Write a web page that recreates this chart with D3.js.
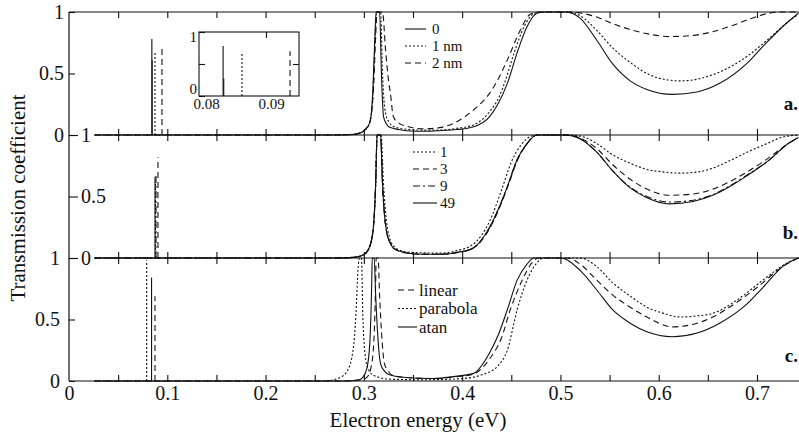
<!DOCTYPE html>
<html>
<head>
<meta charset="utf-8">
<script src="https://cdn.jsdelivr.net/npm/d3@7"></script>
<style>
  body { margin: 0; background: #fff; }
  svg { display: block; }
  svg text { font-family: "Liberation Serif", "Times New Roman", Tinos, "DejaVu Serif", serif; }
</style>
</head>
<body>
<script>
// ---- data: [energy (eV), transmission] ----
var xLabels = [0, 0.1, 0.2, 0.3, 0.4, 0.5, 0.6, 0.7];
var xMinor = [0.05, 0.1, 0.15, 0.2, 0.25, 0.3, 0.35, 0.4, 0.45, 0.5, 0.55, 0.6, 0.65, 0.7];
var yLabels = [0, 0.5, 1];

// panel a : thickness
var legendA = ["0", "1 nm", "2 nm"];
var aSolid = [[0.026,0],[0.27,0],[0.29,0.005],[0.296,0.016],[0.302,0.05],[0.306,0.10],[0.309,0.34],[0.311,0.75],[0.3125,1],[0.316,1],[0.318,0.47],[0.320,0.15],[0.323,0.09],[0.327,0.06],[0.335,0.045],[0.344,0.035],[0.36,0.03],[0.377,0.035],[0.395,0.045],[0.411,0.065],[0.428,0.15],[0.437,0.26],[0.446,0.42],[0.456,0.67],[0.466,0.88],[0.476,0.99],[0.485,1],[0.505,1],[0.52,0.95],[0.537,0.77],[0.553,0.58],[0.571,0.44],[0.588,0.37],[0.614,0.33],[0.639,0.35],[0.662,0.42],[0.69,0.585],[0.706,0.72],[0.726,0.88],[0.742,0.99]];
var aDotted = [[0.026,0],[0.27,0],[0.29,0.005],[0.296,0.015],[0.302,0.045],[0.306,0.10],[0.309,0.3],[0.311,0.7],[0.313,1],[0.317,1],[0.319,0.5],[0.322,0.18],[0.326,0.1],[0.33,0.07],[0.34,0.05],[0.36,0.04],[0.377,0.04],[0.395,0.055],[0.411,0.08],[0.428,0.19],[0.437,0.3],[0.443,0.42],[0.453,0.67],[0.463,0.88],[0.474,0.99],[0.482,1],[0.508,1],[0.52,0.97],[0.537,0.85],[0.553,0.71],[0.571,0.59],[0.588,0.50],[0.604,0.455],[0.622,0.44],[0.64,0.455],[0.655,0.49],[0.672,0.55],[0.69,0.64],[0.713,0.79],[0.733,0.93],[0.742,0.98]];
var aDashed = [[0.026,0],[0.27,0],[0.29,0.006],[0.297,0.02],[0.303,0.06],[0.307,0.14],[0.310,0.4],[0.312,0.8],[0.3135,1],[0.319,1],[0.322,0.7],[0.325,0.45],[0.327,0.34],[0.33,0.15],[0.335,0.10],[0.344,0.07],[0.361,0.05],[0.377,0.06],[0.395,0.11],[0.411,0.20],[0.428,0.34],[0.437,0.46],[0.446,0.61],[0.459,0.85],[0.469,0.98],[0.478,1],[0.51,1],[0.525,0.985],[0.54,0.95],[0.555,0.90],[0.57,0.86],[0.59,0.82],[0.611,0.80],[0.635,0.81],[0.655,0.84],[0.675,0.89],[0.695,0.95],[0.712,0.99],[0.725,1],[0.742,1]];
var spikesA = [[0.0843,0.78,0],[0.0846,0.61,0],[0.0875,0.68,1],[0.0946,0.72,2]];
var insetSpikes = [[0.0834,0.78,0],[0.0835,0.27,0],[0.0863,0.69,1],[0.0937,0.70,2]];

// panel b : number of layers
var legendB = ["1", "3", "9", "49"];
var bDotted = [[0.026,0],[0.27,0],[0.29,0.006],[0.298,0.02],[0.304,0.06],[0.309,0.2],[0.312,0.6],[0.3135,1],[0.3175,1],[0.32,0.6],[0.323,0.3],[0.326,0.17],[0.33,0.1],[0.338,0.06],[0.35,0.045],[0.377,0.04],[0.395,0.06],[0.411,0.11],[0.428,0.30],[0.44,0.55],[0.45,0.78],[0.46,0.92],[0.47,0.99],[0.478,1],[0.51,1],[0.525,0.98],[0.537,0.93],[0.553,0.84],[0.571,0.77],[0.588,0.72],[0.604,0.70],[0.622,0.69],[0.64,0.70],[0.655,0.73],[0.672,0.79],[0.69,0.86],[0.71,0.93],[0.725,0.98],[0.742,1]];
var bDashed = [[0.026,0],[0.27,0],[0.29,0.005],[0.298,0.02],[0.304,0.06],[0.309,0.2],[0.312,0.6],[0.3135,1],[0.317,1],[0.319,0.6],[0.321,0.35],[0.323,0.22],[0.327,0.12],[0.33,0.08],[0.344,0.04],[0.36,0.03],[0.377,0.03],[0.395,0.045],[0.411,0.08],[0.428,0.24],[0.437,0.39],[0.446,0.57],[0.456,0.79],[0.466,0.93],[0.476,1],[0.507,1],[0.52,0.975],[0.537,0.89],[0.553,0.76],[0.571,0.64],[0.588,0.56],[0.611,0.51],[0.635,0.52],[0.655,0.56],[0.672,0.62],[0.69,0.70],[0.713,0.82],[0.73,0.92],[0.742,0.98]];
var bDashDot = [[0.026,0],[0.27,0],[0.29,0.005],[0.298,0.02],[0.304,0.06],[0.309,0.2],[0.312,0.6],[0.3135,1],[0.317,1],[0.319,0.6],[0.321,0.35],[0.323,0.22],[0.327,0.12],[0.33,0.08],[0.344,0.04],[0.36,0.03],[0.377,0.03],[0.395,0.045],[0.411,0.08],[0.428,0.25],[0.437,0.40],[0.446,0.58],[0.456,0.80],[0.466,0.93],[0.476,1],[0.505,1],[0.52,0.97],[0.537,0.86],[0.553,0.71],[0.571,0.575],[0.588,0.50],[0.611,0.455],[0.635,0.47],[0.655,0.515],[0.672,0.585],[0.69,0.675],[0.713,0.80],[0.73,0.92],[0.742,0.98]];
var bSolid = [[0.026,0],[0.27,0],[0.29,0.005],[0.298,0.02],[0.304,0.06],[0.309,0.2],[0.312,0.6],[0.3135,1],[0.317,1],[0.319,0.6],[0.321,0.35],[0.323,0.22],[0.327,0.12],[0.33,0.08],[0.344,0.04],[0.36,0.03],[0.377,0.03],[0.395,0.045],[0.411,0.08],[0.428,0.25],[0.437,0.40],[0.446,0.58],[0.456,0.80],[0.466,0.93],[0.476,1],[0.505,1],[0.52,0.97],[0.537,0.86],[0.553,0.71],[0.571,0.57],[0.588,0.49],[0.611,0.44],[0.635,0.46],[0.655,0.51],[0.672,0.58],[0.69,0.67],[0.713,0.80],[0.73,0.92],[0.742,0.98]];
var spikesB = [[0.0875,0.66,3],[0.0885,0.68,2],[0.088,0.62,0],[0.0905,0.82,1]];

// panel c : profile shape
var legendC = ["linear", "parabola", "atan"];
var cDashed = [[0.026,0],[0.28,0],[0.298,0.01],[0.303,0.03],[0.307,0.1],[0.31,0.3],[0.312,0.8],[0.3125,1],[0.3145,1],[0.316,0.7],[0.318,0.39],[0.321,0.14],[0.325,0.08],[0.328,0.05],[0.34,0.03],[0.37,0.02],[0.395,0.035],[0.411,0.055],[0.428,0.18],[0.44,0.35],[0.449,0.58],[0.46,0.80],[0.47,0.95],[0.478,1],[0.507,1],[0.52,0.95],[0.537,0.82],[0.553,0.70],[0.571,0.60],[0.588,0.52],[0.614,0.44],[0.639,0.47],[0.655,0.52],[0.672,0.60],[0.70,0.76],[0.726,0.93],[0.742,1]];
var cDotted = [[0.026,0],[0.26,0],[0.276,0.03],[0.283,0.08],[0.289,0.25],[0.292,0.55],[0.294,0.9],[0.2955,1],[0.2975,1],[0.299,0.52],[0.302,0.17],[0.305,0.09],[0.309,0.05],[0.326,0.015],[0.36,0.01],[0.40,0.02],[0.42,0.05],[0.436,0.12],[0.446,0.25],[0.456,0.58],[0.466,0.82],[0.476,0.96],[0.483,1],[0.52,1],[0.537,0.93],[0.553,0.80],[0.571,0.69],[0.588,0.60],[0.605,0.55],[0.622,0.52],[0.64,0.53],[0.655,0.55],[0.68,0.66],[0.706,0.82],[0.733,0.97],[0.742,1]];
var cSolid = [[0.026,0],[0.28,0],[0.295,0.01],[0.299,0.03],[0.303,0.1],[0.306,0.3],[0.308,0.8],[0.3085,1],[0.3105,1],[0.312,0.7],[0.314,0.39],[0.317,0.14],[0.321,0.08],[0.326,0.05],[0.34,0.03],[0.37,0.02],[0.395,0.04],[0.411,0.06],[0.428,0.23],[0.437,0.38],[0.446,0.58],[0.456,0.82],[0.466,0.95],[0.473,1],[0.5,1],[0.52,0.90],[0.537,0.74],[0.553,0.58],[0.571,0.47],[0.588,0.40],[0.614,0.36],[0.639,0.39],[0.662,0.47],[0.686,0.60],[0.706,0.76],[0.726,0.93],[0.742,1]];
var spikesC = [[0.079,0.98,1],[0.084,0.84,2],[0.0875,0.69,0]];

// ---- drawing ----
var W = 799, H = 435;
var dash = { solid: null, dotted: "2,2", dashed: "6,4", dashdot: "7,3,2,3" };

var svg = d3.select("body").append("svg")
    .attr("width", W)
    .attr("height", H);

var x = d3.scaleLinear().domain([0, 0.7]).range([69, 757]);
var yA = d3.scaleLinear().domain([0, 1]).range([135, 12]);
var yB = d3.scaleLinear().domain([0, 1]).range([258, 135]);
var yC = d3.scaleLinear().domain([0, 1]).range([381, 258]);

function styleAxis(g, size) {
    g.attr("font-size", size);
    g.selectAll("line").attr("stroke", "#111").attr("stroke-width", 1.1);
    g.selectAll("text").attr("fill", "#111");
    g.select(".domain").remove();
}

// frame lines
svg.append("line").attr("x1", 69).attr("x2", W).attr("y1", yA(1)).attr("y2", yA(1))
    .attr("stroke", "#111").attr("stroke-width", 1.2);
svg.append("line").attr("x1", 69).attr("x2", W).attr("y1", yC(0)).attr("y2", yC(0))
    .attr("stroke", "#111").attr("stroke-width", 1.2);
svg.append("line").attr("x1", 69).attr("x2", 69).attr("y1", yA(1)).attr("y2", yC(0))
    .attr("stroke", "#111").attr("stroke-width", 1.2);
[yA(0), yB(0)].forEach(function (yy) {
    svg.append("line").attr("x1", x(0.026)).attr("x2", W).attr("y1", yy).attr("y2", yy)
        .attr("stroke", "#111").attr("stroke-width", 1);
});

// x tick marks on every panel border
function tickRow(yPos, size) {
    svg.append("g")
        .attr("transform", "translate(0," + yPos + ")")
        .call(d3.axisBottom(x).tickValues(xMinor).tickSize(size).tickFormat(""))
        .call(function (g) { styleAxis(g, 10); });
}
tickRow(yA(1), 6);
tickRow(yA(0), -6);
tickRow(yB(1), 6);
tickRow(yB(0), -6);
tickRow(yC(1), 6);
tickRow(yC(0), -6);

// x labels
svg.append("g")
    .attr("transform", "translate(0," + yC(0) + ")")
    .call(d3.axisBottom(x).tickValues(xLabels).tickSize(0).tickPadding(5)
        .tickFormat(function (d) { return d === 0 ? "0" : d3.format(".1f")(d); }))
    .call(function (g) { styleAxis(g, 20); });

// y axes
svg.append("g").attr("transform", "translate(69,0)")
    .call(d3.axisLeft(yA).tickValues(yLabels).tickSize(-6).tickPadding(5)
        .tickFormat(function (d) { return d; }))
    .call(function (g) { styleAxis(g, 20); });
svg.append("g").attr("transform", "translate(69,0)")
    .call(d3.axisRight(yB).tickValues(yLabels).tickSize(9).tickPadding(3)
        .tickFormat(function (d) { return d; }))
    .call(function (g) { styleAxis(g, 20); });
svg.append("g").attr("transform", "translate(69,0)")
    .call(d3.axisLeft(yC).tickValues(yLabels).tickSize(-6).tickPadding(9)
        .tickFormat(function (d) { return d; }))
    .call(function (g) { styleAxis(g, 20); });

// curves
function drawCurves(y, curves, styles) {
    var line = d3.line()
        .x(function (d) { return x(d[0]); })
        .y(function (d) { return y(d[1]); })
        .curve(d3.curveMonotoneX);
    curves.forEach(function (c, i) {
        svg.append("path")
            .attr("d", line(c))
            .attr("fill", "none")
            .attr("stroke", "#111")
            .attr("stroke-width", 1.1)
            .attr("stroke-dasharray", dash[styles[i]]);
    });
}

function drawSpikes(xs, y, spikes, styles) {
    svg.append("g").selectAll("line")
        .data(spikes)
        .enter()
        .append("line")
        .attr("x1", function (d) { return xs(d[0]); })
        .attr("x2", function (d) { return xs(d[0]); })
        .attr("y1", y(0))
        .attr("y2", function (d) { return y(d[1]); })
        .attr("stroke", "#111")
        .attr("stroke-width", 1.1)
        .attr("stroke-dasharray", function (d) { return dash[styles[d[2]]]; });
}

var stylesA = ["solid", "dotted", "dashed"];
var stylesB = ["dotted", "dashed", "dashdot", "solid"];
var stylesC = ["dashed", "dotted", "solid"];

drawCurves(yA, [aSolid, aDotted, aDashed], stylesA);
drawCurves(yB, [bDotted, bDashed, bDashDot, bSolid], stylesB);
drawCurves(yC, [cDashed, cDotted, cSolid], stylesC);
drawSpikes(x, yA, spikesA, stylesA);
drawSpikes(x, yB, spikesB, stylesB);
drawSpikes(x, yC, spikesC, stylesC);

// inset in panel a
var xi = d3.scaleLinear().domain([0.08, 0.09]).range([201, 266]);
var yi = d3.scaleLinear().domain([0, 1]).range([96, 32]);
svg.append("rect").attr("x", 199).attr("y", 32).attr("width", 100).attr("height", 64)
    .attr("fill", "#fff").attr("stroke", "#111").attr("stroke-width", 1.1);
drawSpikes(xi, yi, insetSpikes, stylesA);
svg.append("g").attr("transform", "translate(199,0)")
    .call(d3.axisLeft(yi).tickValues(yLabels).tickSize(-6).tickPadding(2)
        .tickFormat(function (d) { return d === 0.5 ? "" : d; }))
    .call(function (g) {
        styleAxis(g, 15);
        g.selectAll(".tick text").attr("dy", function (d) { return d === 0 ? "-0.2em" : "0.6em"; });
    });
svg.append("g").attr("transform", "translate(299,0)")
    .call(d3.axisRight(yi).tickValues([0.5]).tickSize(-6).tickFormat(""))
    .call(function (g) { styleAxis(g, 10); });
svg.append("g").attr("transform", "translate(0,32)")
    .call(d3.axisTop(xi).tickValues([0.09]).tickSize(-6).tickFormat(""))
    .call(function (g) { styleAxis(g, 10); });
svg.append("g").attr("transform", "translate(0,96)")
    .call(d3.axisBottom(xi).tickValues([0.08, 0.09]).tickSize(0).tickPadding(2)
        .tickFormat(d3.format(".2f")))
    .call(function (g) {
        styleAxis(g, 15);
        g.selectAll(".tick text").attr("dx", 5);
    });

// legends
function drawLegend(names, styles, x0, x1, tx, y0, dy, size) {
    names.forEach(function (n, i) {
        var yy = y0 + i * dy;
        svg.append("line").attr("x1", x0).attr("x2", x1).attr("y1", yy).attr("y2", yy)
            .attr("stroke", "#111").attr("stroke-width", 1.1)
            .attr("stroke-dasharray", dash[styles[i]]);
        svg.append("text").attr("x", tx).attr("y", yy).attr("dy", "0.33em")
            .attr("font-size", size).attr("fill", "#111")
            .text(n);
    });
}
drawLegend(legendA, stylesA, 405, 426, 432, 29, 17, 15);
drawLegend(legendB, stylesB, 413, 437, 440, 152, 17, 15);
drawLegend(legendC, stylesC, 398, 417, 419, 290, 18.5, 17);

// panel letters
[["a.", 110], ["b.", 239], ["c.", 362]].forEach(function (p) {
    svg.append("text").attr("x", 798).attr("y", p[1]).attr("text-anchor", "end")
        .attr("font-size", 19).attr("font-weight", "bold")
        .attr("fill", "#111").text(p[0]);
});

// axis titles
svg.append("text").attr("x", 418).attr("y", 427).attr("text-anchor", "middle")
    .attr("font-size", 21).attr("fill", "#111")
    .text("Electron energy (eV)");
svg.append("text").attr("transform", "translate(25,198) rotate(-90)")
    .attr("text-anchor", "middle")
    .attr("font-size", 21).attr("fill", "#111")
    .text("Transmission  coefficient");
</script>
</body>
</html>
